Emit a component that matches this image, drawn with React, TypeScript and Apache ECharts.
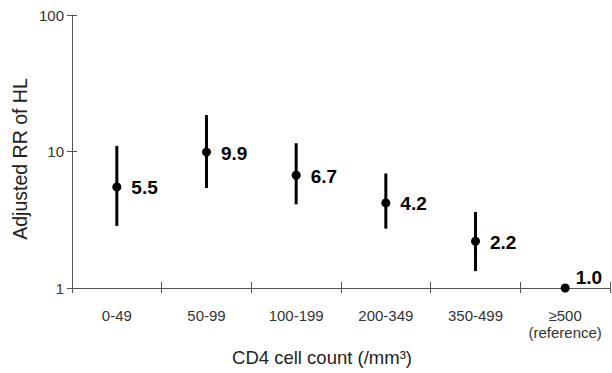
import React, { useEffect, useRef } from "react";
import * as echarts from "echarts";

const categories = ["0-49", "50-99", "100-199", "200-349", "350-499", "≥500\n(reference)"];
const rrValues = [5.5, 9.9, 6.7, 4.2, 2.2, 1.0];
const ciLow = [2.85, 5.4, 4.1, 2.72, 1.33];
const ciHigh = [11.0, 18.5, 11.5, 6.9, 3.6];
const yTicks = [1, 10, 100];

const FONT = "Liberation Sans, Arial, Helvetica, sans-serif";

export default function App() {
  const ref = useRef<HTMLDivElement>(null);
  useEffect(() => {
    if (!ref.current) return;
    const chart = echarts.init(ref.current, undefined, { renderer: "svg" });
    const axisColor = "#555";
    const errData = ciLow.map((lo, i) => [i, lo, ciHigh[i]]);
    const pointData = rrValues.map((v, i) => {
      const last = i === rrValues.length - 1;
      return {
        value: [i, v],
        label: last
          ? { position: "right", distance: 5, offset: [1, -11] }
          : { position: "right", distance: 10, offset: [0, 1] },
      };
    });
    chart.setOption({
      animation: false,
      backgroundColor: "#fff",
      grid: { left: 72, right: 2, top: 15, bottom: 85, containLabel: false },
      xAxis: [
        {
          type: "category",
          data: categories,
          boundaryGap: true,
          position: "bottom",
          axisLine: { show: true, lineStyle: { color: axisColor, width: 1 } },
          axisTick: { show: true, length: 5, lineStyle: { color: axisColor } },
          axisLabel: {
            show: true,
            margin: 19,
            fontSize: 15,
            color: "#333",
            fontFamily: FONT,
            lineHeight: 17,
            interval: 0,
          },
          splitLine: { show: false },
        },
        {
          type: "category",
          data: categories,
          boundaryGap: true,
          position: "bottom",
          axisLine: { show: false },
          axisTick: { show: true, inside: true, length: 6, lineStyle: { color: axisColor } },
          axisLabel: { show: false },
          splitLine: { show: false },
        },
      ],
      yAxis: [
        {
          type: "log",
          logBase: 10,
          min: yTicks[0],
          max: yTicks[yTicks.length - 1],
          interval: 1,
          position: "left",
          axisLine: { show: true, lineStyle: { color: axisColor, width: 1 } },
          axisTick: { show: true, length: 5, lineStyle: { color: axisColor } },
          minorTick: { show: false },
          axisLabel: {
            margin: 8,
            fontSize: 15,
            color: "#333",
            fontFamily: FONT,
          },
          splitLine: { show: false },
        },
        {
          type: "log",
          logBase: 10,
          min: yTicks[0],
          max: yTicks[yTicks.length - 1],
          interval: 1,
          position: "left",
          axisLine: { show: false },
          axisTick: { show: true, inside: true, length: 5, lineStyle: { color: axisColor } },
          axisLabel: { show: false },
          splitLine: { show: false },
        },
      ],
      graphic: [
        {
          type: "text",
          x: 322,
          y: 357,
          style: {
            text: "CD4 cell count (/mm³)",
            fontSize: 18.5,
            fill: "#222",
            fontFamily: FONT,
            textAlign: "center",
            textVerticalAlign: "middle",
          },
        },
        {
          type: "text",
          x: 20,
          y: 159,
          rotation: Math.PI / 2,
          style: {
            text: "Adjusted RR of HL",
            fontSize: 19.5,
            fill: "#222",
            fontFamily: FONT,
            textAlign: "center",
            textVerticalAlign: "middle",
          },
        },
      ],
      series: [
        {
          type: "custom",
          xAxisIndex: 0,
          yAxisIndex: 0,
          data: errData,
          encode: { x: 0, y: [1, 2] },
          renderItem: (params: any, api: any) => {
            const p1 = api.coord([api.value(0), api.value(1)]);
            const p2 = api.coord([api.value(0), api.value(2)]);
            return {
              type: "line",
              shape: { x1: p1[0], y1: p1[1], x2: p2[0], y2: p2[1] },
              style: { stroke: "#000", lineWidth: 3 },
            };
          },
          z: 2,
        },
        {
          type: "scatter",
          xAxisIndex: 0,
          yAxisIndex: 0,
          data: pointData,
          symbol: "circle",
          symbolSize: 9,
          itemStyle: { color: "#000", opacity: 1 },
          label: {
            show: true,
            formatter: (p: any) => p.value[1].toFixed(1),
            fontSize: 19,
            fontWeight: "bold",
            color: "#000",
            fontFamily: FONT,
          },
          z: 3,
        },
      ],
    });
    return () => chart.dispose();
  }, []);
  return (
    <div
      ref={ref}
      style={{ position: "absolute", left: 0, top: 0, width: 612, height: 373, background: "#fff" }}
    />
  );
}
